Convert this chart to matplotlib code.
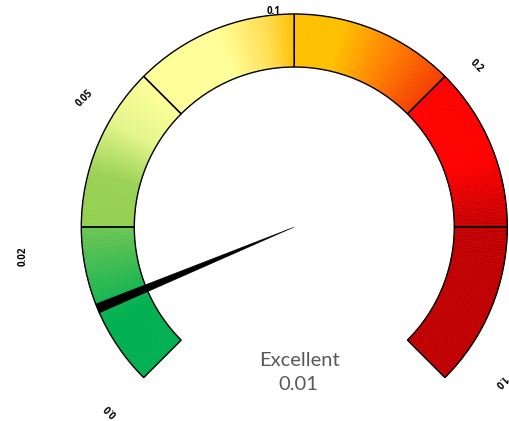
import numpy as np
import matplotlib
matplotlib.use("Agg")
import matplotlib.pyplot as plt
from matplotlib.patches import Wedge, Polygon
from matplotlib.colors import to_rgb

# scale thresholds and the angle (degrees) each one sits at on the dial
tick_values = [0.0, 0.02, 0.05, 0.1, 0.2, 1.0]
tick_angles = [225, 180, 135, 90, 45, -45]
tick_labels = ["0.0", "0.02", "0.05", "0.1", "0.2", "1.0"]

# band edges (deg) and gradient stops per band: (angle, colour)
band_edges = [225, 180, 135, 90, 45, 0, -45]
band_stops = [
    [(225, "#00B050"), (207, "#00B050"), (180, "#6EC553")],
    [(180, "#92D050"), (165, "#9AD254"), (150, "#E4F58C"), (135, "#FFFF99")],
    [(135, "#FFFF99"), (112, "#FFFF99"), (98, "#FFDD50"), (90, "#FFC000")],
    [(90, "#FFC000"), (77, "#FFC000"), (60, "#FF7A00"), (45, "#F43C00")],
    [(45, "#FF0000"), (20, "#FF0000"), (0, "#C40000")],
    [(0, "#C00000"), (-45, "#C00000")],
]

value = 0.01
rating = "Excellent"

# layout (pixel units, origin bottom-left)
W, H = 510, 421
cx, cy = 294.3, 194
r_out, r_in = 213, 160
label_xy = [(110.5, 11), (23, 165), (85, 323), (273.5, 409.5), (476.5, 355), (500, 40)]

fig = plt.figure(figsize=(W / 100, H / 100), dpi=100)
ax = fig.add_axes([0, 0, 1, 1])
ax.set_xlim(0, W)
ax.set_ylim(0, H)
ax.axis("off")

for i in range(len(band_edges) - 1):
    a0, a1 = band_edges[i], band_edges[i + 1]
    stops = band_stops[i]
    sa = [s[0] for s in stops][::-1]
    sc = np.array([to_rgb(s[1]) for s in stops])[::-1]
    n = 60
    th = np.linspace(a1, a0, n + 1)
    for k in range(n):
        mid = 0.5 * (th[k] + th[k + 1])
        col = [np.interp(mid, sa, sc[:, j]) for j in range(3)]
        ax.add_patch(Wedge((cx, cy), r_out, th[k], th[k + 1], width=r_out - r_in,
                           facecolor=col, edgecolor=col, linewidth=0.4))
    ax.add_patch(Wedge((cx, cy), r_out, a1, a0, width=r_out - r_in,
                       facecolor="none", edgecolor="black", linewidth=1.0, zorder=3))

# needle
ang = np.interp(value, tick_values, tick_angles)
half = 1.3
pts = [(cx, cy)]
for d in (ang - half, ang + half):
    t = np.radians(d)
    pts.append((cx + r_out * np.cos(t), cy + r_out * np.sin(t)))
ax.add_patch(Polygon(pts, closed=True, facecolor="black", edgecolor="black",
                     linewidth=0.3, zorder=4))

for lab, a, (x, y) in zip(tick_labels, tick_angles, label_xy):
    ax.text(x, y, lab, rotation=a - 90, ha="center", va="center",
            fontsize=7, fontweight="bold", family="Open Sans", rotation_mode="anchor")

ax.text(299.5, 61, rating, ha="center", va="center", fontsize=14.5,
        family="Lato", color="#595959")
ax.text(298.7, 36, f"{value:.2f}", ha="center", va="center", fontsize=14.5,
        family="Lato", color="#595959")

fig.savefig("out.png", dpi=100)
